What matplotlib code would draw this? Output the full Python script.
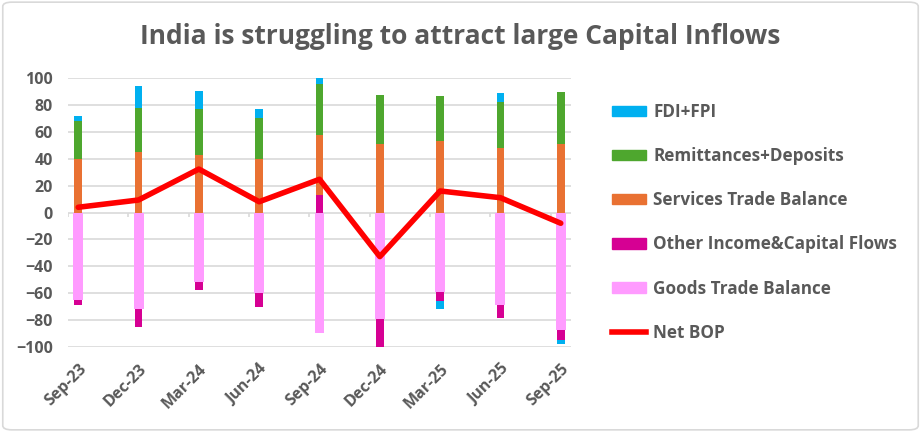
import numpy as np
import matplotlib.pyplot as plt
from matplotlib.patches import FancyBboxPatch, Patch
from matplotlib.lines import Line2D

# ---------------- DATA
quarters = ['Sep-23', 'Dec-23', 'Mar-24', 'Jun-24', 'Sep-24', 'Dec-24', 'Mar-25', 'Jun-25', 'Sep-25']
goods = [-65, -72, -52, -60, -89.5, -79, -59, -69, -87.5]
other = [-4, -13, -5.5, -10, 13, -21, -7, -9.5, -7.5]
services = [40, 45, 43, 40, 44.6, 51, 53, 48, 51]
remit = [28, 33, 34, 30.5, 38, 36.5, 34, 34, 38.5]
fdi = [4, 16, 13, 6.5, 4.7, -20, -6, 6.5, -3]
net_bop = [3.9, 9.3, 32.3, 8, 24.7, -32.8, 16, 11, -8]

c_fdi = '#00B0F0'
c_rem = '#4EA72E'
c_serv = '#E97132'
c_oth = '#D60093'
c_goods = '#FF9BFF'
c_net = '#FF0000'
grey = '#595959'

plt.rcParams['font.family'] = ['Open Sans', 'DejaVu Sans']

fig = plt.figure(figsize=(9.21, 4.32), dpi=100)
ax = fig.add_axes([0.0738, 0.1968, 0.5462, 0.6226])

x = np.arange(len(quarters))
w = 0.13

# stack positives and negatives separately (like Excel)
pos_base = np.zeros(len(x))
neg_base = np.zeros(len(x))
for vals, col, bw in [(goods, c_goods, 0.165), (other, c_oth, w), (services, c_serv, w),
                      (remit, c_rem, w), (fdi, c_fdi, w)]:
    v = np.array(vals, dtype=float)
    bottoms = np.where(v >= 0, pos_base, neg_base)
    ax.bar(x, v, bottom=bottoms, width=bw, color=col, zorder=3)
    pos_base = pos_base + np.where(v >= 0, v, 0)
    neg_base = neg_base + np.where(v < 0, v, 0)

ax.plot(x, net_bop, color=c_net, lw=4, zorder=4, solid_capstyle='round')

# small tick marks on the zero line
ax.vlines(x - 0.17, -3, 0, color='#D9D9D9', lw=1.2, zorder=2)

ax.set_ylim(-100, 100)
ax.set_yticks(np.arange(-100, 101, 20))
ax.set_xlim(-0.17, len(x) - 1 + 0.17)
ax.set_xticks(x)
ax.set_xticklabels(quarters, rotation=45, ha='right', rotation_mode='anchor')
ax.tick_params(axis='x', length=0, pad=10)
ax.tick_params(axis='y', length=0, pad=11)
for lab in ax.get_xticklabels() + ax.get_yticklabels():
    lab.set_fontsize(11.5)
    lab.set_fontweight('bold')
    lab.set_color(grey)

ax.grid(axis='y', color='#D9D9D9', lw=1.2, zorder=0)
for s in ax.spines.values():
    s.set_visible(False)

fig.text(0.5, 0.915, 'India is struggling to attract large Capital Inflows',
         ha='center', va='center', fontsize=19, fontweight='bold', color=grey)

handles = [Patch(color=c_fdi), Patch(color=c_rem), Patch(color=c_serv),
           Patch(color=c_oth), Patch(color=c_goods), Line2D([], [], color=c_net, lw=4)]
labels = ['FDI+FPI', 'Remittances+Deposits', 'Services Trade Balance',
          'Other Income&Capital Flows', 'Goods Trade Balance', 'Net BOP']
leg = fig.legend(handles, labels, loc='upper left', bbox_to_anchor=(0.648, 0.797),
                 frameon=False, prop={'weight': 'bold', 'size': 12.3},
                 labelspacing=1.53, handlelength=2.0, handleheight=0.55, handletextpad=0.4)
for t in leg.get_texts():
    t.set_color(grey)

fig.patches.append(FancyBboxPatch((0.003, 0.005), 0.994, 0.99, boxstyle='round,pad=0,rounding_size=0.01',
                                  transform=fig.transFigure, fill=False, ec='#D9D9D9', lw=1.2))

fig.savefig('out.png', dpi=100)
